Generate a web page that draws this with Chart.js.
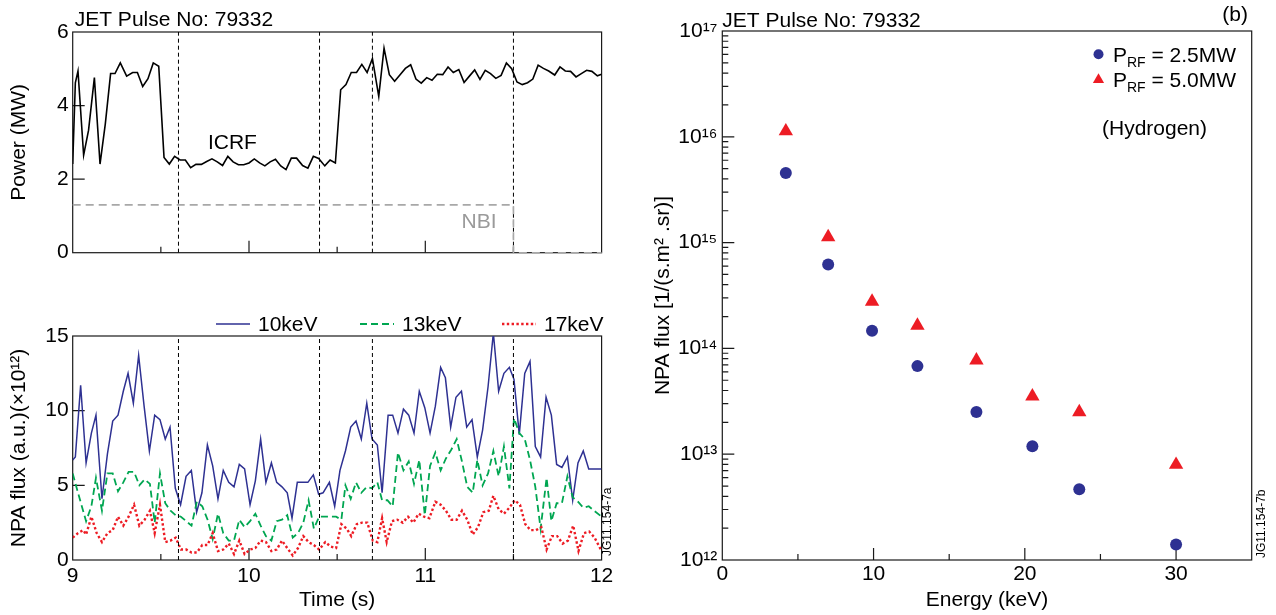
<!DOCTYPE html>
<html>
<head>
<meta charset="utf-8">
<script src="https://cdn.jsdelivr.net/npm/chart.js@4.4.1/dist/chart.umd.min.js"></script>
<style>
  html, body { margin: 0; padding: 0; background: #fff; }
  #wrap { position: relative; width: 1276px; height: 615px; overflow: hidden; }
  canvas { position: absolute; }
</style>
</head>
<body>
<div id="wrap">
  <canvas id="powerChart" width="640" height="290" style="left:0;top:0"></canvas>
  <canvas id="fluxChart" width="640" height="325" style="left:0;top:290px"></canvas>
  <canvas id="spectrumChart" width="636" height="615" style="left:640px;top:0"></canvas>
</div>
<script>
// ---- values ----
const pulseLabel = "JET Pulse No: 79332";
const markerTimes = [9.6, 10.4, 10.7, 11.5];
const timeLabels = [9, 10, 11, 12];
const powerTicks = [0, 2, 4, 6];
const fluxTicks = [0, 5, 10, 15];
const energyLabels = [0, 10, 20, 30];
const fluxDecades = [12, 13, 14, 15, 16, 17];

// ICRF power [time (s), MW]
const icrfPower = [
  [9.0, 2.41], [9.015, 4.62], [9.03, 4.94], [9.062, 2.65], [9.09, 3.33], [9.123, 4.76],
  [9.155, 2.41], [9.185, 3.5], [9.215, 4.87], [9.24, 4.87], [9.27, 5.16], [9.306, 4.8],
  [9.34, 4.9], [9.367, 4.9], [9.397, 4.52], [9.427, 4.73], [9.457, 5.16], [9.488, 5.07],
  [9.518, 2.59], [9.548, 2.41], [9.578, 2.62], [9.609, 2.52], [9.639, 2.52], [9.669, 2.31],
  [9.699, 2.4], [9.73, 2.4], [9.76, 2.48], [9.79, 2.55], [9.82, 2.47], [9.85, 2.37],
  [9.88, 2.62], [9.91, 2.47], [9.94, 2.39], [9.97, 2.39], [10.0, 2.44], [10.03, 2.55],
  [10.06, 2.44], [10.09, 2.36], [10.12, 2.47], [10.15, 2.54], [10.18, 2.36], [10.21, 2.26],
  [10.24, 2.57], [10.27, 2.57], [10.304, 2.37], [10.334, 2.3], [10.365, 2.62], [10.395, 2.56],
  [10.43, 2.36], [10.46, 2.52], [10.49, 2.44], [10.52, 4.43], [10.55, 4.57], [10.58, 4.9],
  [10.61, 4.9], [10.64, 5.12], [10.67, 4.9], [10.7, 5.28], [10.736, 4.25], [10.766, 5.56],
  [10.796, 4.84], [10.826, 4.66], [10.857, 4.84], [10.887, 5.01], [10.917, 5.11], [10.947, 4.72],
  [10.977, 4.61], [11.008, 4.76], [11.038, 4.69], [11.068, 4.85], [11.099, 4.84], [11.129, 5.05],
  [11.159, 4.9], [11.19, 4.98], [11.22, 4.63], [11.25, 4.8], [11.28, 4.97], [11.31, 4.71],
  [11.34, 4.96], [11.37, 4.87], [11.4, 4.74], [11.43, 4.82], [11.46, 5.16], [11.49, 5.0],
  [11.52, 4.64], [11.55, 4.57], [11.58, 4.62], [11.61, 4.72], [11.64, 5.1], [11.67, 5.01],
  [11.7, 4.94], [11.734, 4.83], [11.764, 5.05], [11.794, 4.94], [11.824, 4.93], [11.855, 4.78],
  [11.885, 4.87], [11.915, 4.96], [11.945, 4.93], [11.976, 4.81], [12.0, 4.85]
];

// NBI power [time (s), MW]
const nbiPower = [[9.0, 1.3], [11.5, 1.3], [11.5, 0], [12.0, 0]];

// NPA flux (x1e12) [time (s), a.u.]
const flux10keV = [
  [9.0, 6.7], [9.015, 6.9], [9.045, 11.7], [9.076, 6.5], [9.106, 8.5], [9.132, 9.7],
  [9.166, 4.1], [9.197, 7.1], [9.227, 9.3], [9.257, 9.7], [9.287, 11.3], [9.314, 12.5],
  [9.344, 10.5], [9.374, 13.7], [9.405, 10.3], [9.435, 7.3], [9.465, 9.7], [9.495, 9.4],
  [9.525, 8.1], [9.552, 8.9], [9.582, 4.8], [9.612, 3.7], [9.643, 5.6], [9.673, 6.0],
  [9.703, 3.2], [9.733, 4.5], [9.764, 7.7], [9.794, 6.3], [9.824, 4.1], [9.854, 6.0],
  [9.885, 5.2], [9.915, 4.9], [9.945, 6.4], [9.975, 6.1], [10.006, 3.7], [10.036, 5.3],
  [10.066, 8.1], [10.096, 5.2], [10.127, 6.5], [10.157, 5.2], [10.187, 4.9], [10.217, 4.5],
  [10.244, 2.8], [10.274, 5.2], [10.304, 5.2], [10.334, 5.2], [10.365, 5.7], [10.395, 4.4],
  [10.42, 4.5], [10.456, 5.2], [10.486, 3.6], [10.516, 6.0], [10.547, 7.3], [10.577, 8.9],
  [10.607, 9.3], [10.637, 8.1], [10.668, 10.5], [10.698, 8.1], [10.728, 7.7], [10.755, 4.5],
  [10.789, 9.7], [10.815, 9.7], [10.845, 8.5], [10.876, 10.1], [10.906, 9.7], [10.936, 8.5],
  [10.966, 11.3], [10.997, 10.2], [11.027, 8.5], [11.057, 10.3], [11.087, 12.9], [11.114, 12.2],
  [11.144, 8.9], [11.174, 10.9], [11.205, 11.3], [11.235, 8.9], [11.265, 9.4], [11.295, 6.9],
  [11.325, 8.7], [11.356, 11.6], [11.386, 15.2], [11.416, 11.3], [11.446, 12.5], [11.477, 12.9],
  [11.503, 12.1], [11.533, 8.4], [11.564, 12.5], [11.594, 13.3], [11.624, 7.6], [11.654, 6.9],
  [11.685, 10.9], [11.715, 9.7], [11.745, 6.4], [11.775, 6.2], [11.806, 6.9], [11.836, 4.0],
  [11.866, 6.5], [11.896, 7.3], [11.927, 6.1], [11.957, 6.1], [12.0, 6.1]
];
const flux13keV = [
  [9.0, 5.8], [9.03, 4.5], [9.076, 2.6], [9.106, 3.6], [9.132, 5.5], [9.166, 3.3],
  [9.197, 5.8], [9.227, 5.8], [9.257, 4.6], [9.287, 5.2], [9.317, 5.9], [9.348, 5.9],
  [9.378, 5.0], [9.408, 5.4], [9.438, 5.1], [9.465, 2.5], [9.495, 5.8], [9.525, 3.8],
  [9.555, 3.3], [9.584, 3.0], [9.614, 2.9], [9.644, 2.6], [9.674, 2.3], [9.704, 3.9],
  [9.735, 3.6], [9.765, 2.7], [9.794, 1.4], [9.824, 3.1], [9.854, 1.8], [9.885, 1.3],
  [9.915, 1.3], [9.945, 2.7], [9.975, 2.2], [10.006, 2.6], [10.036, 3.1], [10.066, 2.3],
  [10.096, 1.6], [10.127, 1.3], [10.157, 2.6], [10.187, 2.7], [10.217, 3.0], [10.248, 1.5],
  [10.278, 1.8], [10.308, 2.5], [10.338, 4.0], [10.368, 2.1], [10.398, 2.9], [10.433, 2.9],
  [10.463, 2.9], [10.494, 2.9], [10.524, 2.7], [10.547, 5.0], [10.577, 4.1], [10.607, 5.2],
  [10.637, 4.5], [10.668, 4.9], [10.698, 4.8], [10.728, 5.2], [10.755, 4.0], [10.785, 4.0],
  [10.815, 3.6], [10.845, 7.2], [10.876, 6.0], [10.906, 6.6], [10.936, 5.1], [10.966, 6.7],
  [10.997, 3.0], [11.027, 6.3], [11.057, 7.2], [11.087, 6.0], [11.117, 6.8], [11.148, 7.4],
  [11.178, 8.1], [11.208, 6.6], [11.238, 4.9], [11.269, 4.5], [11.295, 6.7], [11.325, 5.0],
  [11.356, 5.8], [11.386, 7.3], [11.416, 5.6], [11.446, 7.6], [11.477, 4.8], [11.503, 9.5],
  [11.533, 8.5], [11.564, 8.1], [11.594, 6.7], [11.624, 4.9], [11.654, 2.1], [11.688, 5.5],
  [11.715, 2.6], [11.745, 3.8], [11.775, 3.8], [11.806, 5.6], [11.836, 4.2], [11.866, 3.9],
  [11.896, 3.5], [11.927, 3.6], [11.957, 3.3], [12.0, 2.9]
];
const flux17keV = [
  [9.0, 1.5], [9.03, 1.8], [9.06, 2.0], [9.076, 1.7], [9.106, 2.9], [9.136, 1.8],
  [9.166, 1.2], [9.197, 1.8], [9.227, 2.0], [9.257, 2.9], [9.287, 2.3], [9.317, 2.9],
  [9.348, 3.7], [9.378, 2.3], [9.408, 2.7], [9.438, 3.3], [9.465, 1.8], [9.495, 3.7],
  [9.525, 1.2], [9.555, 1.3], [9.584, 1.5], [9.614, 0.7], [9.644, 0.7], [9.674, 0.5],
  [9.704, 0.5], [9.735, 1.0], [9.765, 1.0], [9.794, 1.8], [9.824, 0.6], [9.854, 0.7],
  [9.885, 1.1], [9.915, 0.4], [9.945, 1.3], [9.975, 0.4], [10.006, 0.7], [10.036, 0.8],
  [10.066, 1.3], [10.096, 1.2], [10.127, 0.6], [10.157, 0.7], [10.187, 1.3], [10.217, 0.8],
  [10.248, 0.3], [10.278, 0.8], [10.308, 1.6], [10.338, 1.2], [10.368, 1.0], [10.398, 0.7],
  [10.433, 1.2], [10.463, 0.9], [10.494, 0.8], [10.524, 2.4], [10.554, 2.1], [10.58, 1.6],
  [10.611, 2.4], [10.641, 2.5], [10.671, 2.5], [10.702, 1.3], [10.728, 1.2], [10.755, 2.8],
  [10.781, 1.2], [10.811, 2.6], [10.841, 2.7], [10.872, 2.5], [10.902, 2.9], [10.932, 2.5],
  [10.962, 3.1], [10.993, 2.9], [11.023, 2.8], [11.057, 3.9], [11.087, 3.7], [11.117, 3.3],
  [11.148, 2.7], [11.178, 2.7], [11.208, 3.3], [11.238, 2.7], [11.269, 1.7], [11.299, 2.2],
  [11.329, 3.2], [11.36, 3.3], [11.386, 4.3], [11.416, 3.4], [11.446, 3.1], [11.477, 3.5],
  [11.507, 4.0], [11.537, 3.7], [11.567, 2.4], [11.597, 2.0], [11.628, 2.0], [11.658, 2.2],
  [11.688, 0.7], [11.718, 1.6], [11.748, 1.6], [11.779, 1.1], [11.809, 1.3], [11.839, 2.3],
  [11.869, 0.6], [11.9, 1.8], [11.93, 1.9], [11.96, 1.5], [12.0, 0.6]
];

// NPA energy spectrum
const energyKeV = [4.2, 7.0, 9.9, 12.9, 16.8, 20.5, 23.6, 30.0];
const fluxPrf25 = [4.55e15, 6.2e14, 1.47e14, 6.8e13, 2.5e13, 1.19e13, 4.66e12, 1.4e12];
const fluxPrf50 = [1.13e16, 1.13e15, 2.77e14, 1.64e14, 7.7e13, 3.53e13, 2.5e13, 7.96e12];

// ---- styling ----
const FONT = '"Liberation Sans", Arial, Helvetica, sans-serif';
const NAVY = "#2e3192";
const GREEN = "#00a651";
const RED = "#ed1c24";

Chart.defaults.font.family = FONT;
Chart.defaults.font.size = 21;
Chart.defaults.color = "#000";
Chart.defaults.animation = false;
Chart.defaults.plugins.legend.display = false;
Chart.defaults.plugins.tooltip.enabled = false;

const toXY = (pairs) => pairs.map(([x, y]) => ({ x, y }));
const SUP = "⁰¹²³⁴⁵⁶⁷⁸⁹";
const sup = (n) => String(n).split("").map((d) => SUP[+d]).join("");

// frame + inward ticks, drawn under the data
function framePlugin(name, xMajor, yMajor, extra) {
  return {
    id: "frame_" + name,
    beforeDatasetsDraw(chart) {
      const { ctx, chartArea: a } = chart;
      const xs = chart.scales.x, ys = chart.scales.y;
      ctx.save();
      ctx.strokeStyle = "#1a1a1a";
      ctx.lineWidth = 1.2;
      ctx.strokeRect(a.left, a.top, a.width, a.height);
      ctx.beginPath();
      xs.ticks.forEach((t) => {
        const px = xs.getPixelForValue(t.value);
        if (px < a.left + 2 || px > a.right - 2) return;
        const len = xMajor(t.value) ? 12 : 6;
        ctx.moveTo(px, a.bottom);
        ctx.lineTo(px, a.bottom - len);
      });
      ys.ticks.forEach((t) => {
        const py = ys.getPixelForValue(t.value);
        if (py < a.top + 2 || py > a.bottom - 2) return;
        const len = yMajor(t.value) ? 12 : 6;
        ctx.moveTo(a.left, py);
        ctx.lineTo(a.left + len, py);
      });
      ctx.stroke();
      ctx.restore();
    },
    afterDatasetsDraw(chart) {
      if (!extra) return;
      const { ctx } = chart;
      ctx.save();
      extra(chart, ctx, chart.chartArea);
      ctx.restore();
    },
  };
}

function vertText(ctx, text, x, y) {
  ctx.save();
  ctx.translate(x, y);
  ctx.rotate(-Math.PI / 2);
  ctx.font = "12px " + FONT;
  ctx.fillStyle = "#000";
  ctx.textAlign = "left";
  ctx.textBaseline = "middle";
  ctx.fillText(text, 0, 0);
  ctx.restore();
}

const markerSets = (top) =>
  markerTimes.map((t) => ({
    data: [{ x: t, y: 0 }, { x: t, y: top }],
    borderColor: "#000",
    borderWidth: 1,
    borderDash: [4, 3],
    pointRadius: 0,
  }));

const timeScale = (showLabels, height) => ({
  type: "linear",
  min: 9,
  max: 12,
  grid: { display: false, drawTicks: false },
  border: { display: false },
  ticks: {
    display: showLabels,
    stepSize: 0.5,
    autoSkip: false,
    maxRotation: 0,
    padding: 4,
    callback: (v) => (timeLabels.includes(v) ? String(v) : ""),
  },
  title: {
    display: showLabels,
    text: "Time (s)",
    padding: { top: 0, bottom: 2.4 },
  },
  afterFit: (s) => { s.height = height; },
});

const leftScale = (ticks, title) => ({
  type: "linear",
  min: ticks[0],
  max: ticks[ticks.length - 1],
  grid: { display: false, drawTicks: false },
  border: { display: false },
  ticks: { stepSize: ticks[1] - ticks[0], padding: 4 },
  title: { display: true, text: title, padding: { top: 7, bottom: 0 } },
  afterFit: (s) => { s.width = 72.7; },
});

// Power panel
const powerCtx = document.getElementById("powerChart")?.getContext("2d");
if (powerCtx) {
  new Chart(powerCtx, {
    type: "line",
    data: {
      datasets: [
        {
          label: "NBI",
          data: toXY(nbiPower),
          borderColor: "#a8a8a8",
          borderWidth: 1.6,
          borderDash: [8, 5],
          pointRadius: 0,
          clip: false,
        },
        ...markerSets(6),
        {
          label: "ICRF",
          data: toXY(icrfPower),
          borderColor: "#000",
          borderWidth: 1.6,
          pointRadius: 0,
        },
      ],
    },
    options: {
      responsive: false,
      layout: { padding: { left: 0, top: 32, right: 38.4, bottom: 27.3 } },
      scales: { x: timeScale(false, 10), y: leftScale(powerTicks, "Power (MW)") },
    },
    plugins: [
      framePlugin("power", (v) => Number.isInteger(v), () => true, (chart, ctx, a) => {
        const xs = chart.scales.x, ys = chart.scales.y;
        ctx.font = "21px " + FONT;
        ctx.textBaseline = "alphabetic";
        ctx.textAlign = "left";
        ctx.fillStyle = "#000";
        ctx.fillText(pulseLabel, a.left + 2, 26);
        ctx.fillText("ICRF", xs.getPixelForValue(9.767), ys.getPixelForValue(2.83));
        ctx.fillStyle = "#9a9a9a";
        ctx.fillText("NBI", xs.getPixelForValue(11.206), ys.getPixelForValue(0.66));
      }),
    ],
  });
}

// NPA flux time traces
const fluxCtx = document.getElementById("fluxChart")?.getContext("2d");
if (fluxCtx) {
  const series = [
    { label: "10keV", data: flux10keV, color: NAVY, width: 1.5, dash: [] },
    { label: "13keV", data: flux13keV, color: GREEN, width: 1.8, dash: [7, 4] },
    { label: "17keV", data: flux17keV, color: RED, width: 2.4, dash: [2.4, 2.4] },
  ];
  new Chart(fluxCtx, {
    type: "line",
    data: {
      datasets: [
        ...markerSets(15),
        ...series.slice().reverse().map((s) => ({
          label: s.label,
          data: toXY(s.data),
          borderColor: s.color,
          borderWidth: s.width,
          borderDash: s.dash,
          pointRadius: 0,
        })),
      ],
    },
    options: {
      responsive: false,
      layout: { padding: { left: 0, top: 46, right: 38.4, bottom: 0 } },
      scales: { x: timeScale(true, 55), y: leftScale(fluxTicks, "NPA flux (a.u.)(×10¹²)") },
    },
    plugins: [
      framePlugin("flux", (v) => Number.isInteger(v), () => true, (chart, ctx, a) => {
        const legendX = [216, 360, 502];
        ctx.font = "21px " + FONT;
        ctx.textBaseline = "middle";
        ctx.textAlign = "left";
        series.forEach((s, i) => {
          ctx.strokeStyle = s.color;
          ctx.lineWidth = s.width;
          ctx.setLineDash(s.dash);
          ctx.beginPath();
          ctx.moveTo(legendX[i], 34);
          ctx.lineTo(legendX[i] + 34, 34);
          ctx.stroke();
          ctx.fillStyle = "#000";
          ctx.fillText(s.label, legendX[i] + 42, 35);
        });
        ctx.setLineDash([]);
        vertText(ctx, "JG11.154-7a", 608, a.bottom - 4);
      }),
    ],
  });
}

// NPA energy spectrum
const specCtx = document.getElementById("spectrumChart")?.getContext("2d");
if (specCtx) {
  new Chart(specCtx, {
    type: "scatter",
    data: {
      datasets: [
        {
          label: "PRF = 2.5MW",
          data: energyKeV.map((e, i) => ({ x: e, y: fluxPrf25[i] })),
          pointStyle: "circle",
          pointRadius: 6,
          backgroundColor: NAVY,
          borderColor: NAVY,
          borderWidth: 0,
        },
        {
          label: "PRF = 5.0MW",
          data: energyKeV.map((e, i) => ({ x: e, y: fluxPrf50[i] })),
          pointStyle: "triangle",
          pointRadius: 8.3,
          backgroundColor: RED,
          borderColor: RED,
          borderWidth: 0,
        },
      ],
    },
    options: {
      responsive: false,
      layout: { padding: { left: 0, top: 31, right: 24.3, bottom: 0 } },
      scales: {
        x: {
          type: "linear",
          min: 0,
          max: 35,
          grid: { display: false, drawTicks: false },
          border: { display: false },
          ticks: {
            stepSize: 5,
            autoSkip: false,
            maxRotation: 0,
            padding: 2,
            callback: (v) => (energyLabels.includes(v) ? String(v) : ""),
          },
          title: { display: true, text: "Energy (keV)", padding: { top: 0, bottom: 2.4 } },
          afterFit: (s) => { s.height = 55; },
        },
        y: {
          type: "logarithmic",
          min: Math.pow(10, fluxDecades[0]),
          max: Math.pow(10, fluxDecades[fluxDecades.length - 1]),
          grid: { display: false, drawTicks: false },
          border: { display: false },
          afterBuildTicks: (s) => {
            const t = [];
            fluxDecades.forEach((d, i) => {
              if (i === fluxDecades.length - 1) { t.push({ value: Math.pow(10, d) }); return; }
              for (let m = 1; m <= 9; m++) t.push({ value: m * Math.pow(10, d) });
            });
            s.ticks = t;
          },
          ticks: {
            autoSkip: false,
            padding: 5,
            callback: (v) => {
              const e = Math.log10(v);
              return Math.abs(e - Math.round(e)) < 1e-6 ? "10" + sup(Math.round(e)) : "";
            },
          },
          title: { display: true, text: "NPA flux [1/(s.m² .sr)]", padding: { top: 10.4, bottom: 0 } },
          afterFit: (s) => { s.width = 82.3; },
        },
      },
    },
    plugins: [
      framePlugin(
        "spectrum",
        (v) => v % 10 === 0,
        (v) => Math.abs(Math.log10(v) - Math.round(Math.log10(v))) < 1e-6,
        (chart, ctx, a) => {
          ctx.font = "21px " + FONT;
          ctx.textBaseline = "alphabetic";
          ctx.textAlign = "left";
          ctx.fillStyle = "#000";
          ctx.fillText(pulseLabel, a.left, 26.5);
          ctx.textAlign = "right";
          ctx.fillText("(b)", 608, 21);
          ctx.textAlign = "left";
          ctx.fillText("(Hydrogen)", 462, 135);

          // legend
          const rows = [
            { y: 61.7, value: "2.5MW", marker: "circle" },
            { y: 87.3, value: "5.0MW", marker: "triangle" },
          ];
          rows.forEach((r) => {
            const mx = 458.5, my = r.y - 7.5;
            ctx.beginPath();
            if (r.marker === "circle") {
              ctx.fillStyle = NAVY;
              ctx.arc(mx, my, 5, 0, Math.PI * 2);
            } else {
              ctx.fillStyle = RED;
              ctx.moveTo(mx, my - 6.5);
              ctx.lineTo(mx + 5.6, my + 3.3);
              ctx.lineTo(mx - 5.6, my + 3.3);
              ctx.closePath();
            }
            ctx.fill();
            ctx.fillStyle = "#000";
            ctx.font = "21px " + FONT;
            let x = 473;
            ctx.fillText("P", x, r.y);
            x += ctx.measureText("P").width;
            ctx.font = "14px " + FONT;
            ctx.fillText("RF", x, r.y + 5);
            x += ctx.measureText("RF").width;
            ctx.font = "21px " + FONT;
            ctx.fillText(" = " + r.value, x, r.y);
          });
          vertText(ctx, "JG11.154-7b", 622, a.bottom - 2);
        }
      ),
    ],
  });
}
</script>
</body>
</html>
